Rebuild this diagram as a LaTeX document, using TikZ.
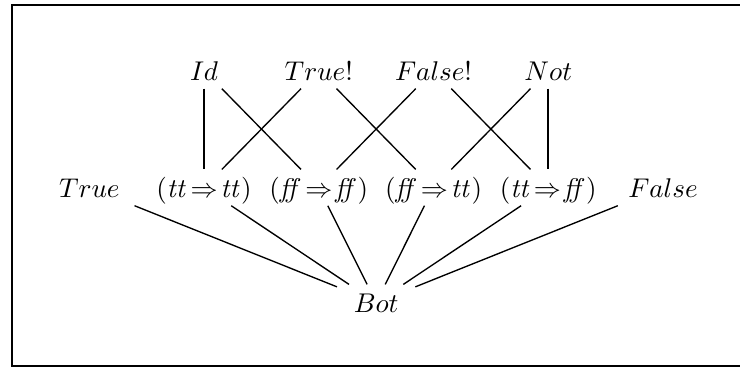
\documentclass[tikz,border=0pt]{standalone}
\usepackage{amsmath}
\usepackage{tikz}

\tikzset{
  elt/.style={anchor=base, inner xsep=0.6em, inner ysep=0.1em,
              text height=0.9em, text depth=0.2em},
  ord/.style={line width=0.5pt},
  ordv/.style={line width=0.8pt}
}

\begin{document}
\begin{tikzpicture}

\useasboundingbox (0,0) rectangle (9.61,4.779);

%-- frame, open to the right
\draw[line width=0.75pt]
  (9.7,4.714)--(0.156,4.714)--(0.156,0.026)--(9.7,0.026);

%-- top row
\node[elt] (Id)     at (2.65,3.74) {$Id$};
\node[elt] (TrueK)  at (4.14,3.74) {$True\mathit{!}$};
\node[elt] (FalseK) at (5.63,3.74) {$False\mathit{!}$};
\node[elt] (Not)    at (7.12,3.74) {$Not$};

%-- middle row
\node[elt] (True)  at (1.16,2.22) {$True$};
\node[elt] (TT)    at (2.65,2.22) {$(\mathit{tt}\!\Rightarrow\!\mathit{tt})$};
\node[elt] (FF)    at (4.14,2.22) {$(\mathit{ff}\!\Rightarrow\!\mathit{ff})$};
\node[elt] (FT)    at (5.63,2.22) {$(\mathit{ff}\!\Rightarrow\!\mathit{tt})$};
\node[elt] (TF)    at (7.12,2.22) {$(\mathit{tt}\!\Rightarrow\!\mathit{ff})$};
\node[elt] (False) at (8.61,2.22) {$False$};

%-- bottom
\node[elt] (Bot) at (4.885,0.727) {$Bot$};

\draw[ordv] (Id)--(TT);
\draw[ordv] (Not)--(TF);

\foreach \s/\e in {Id/FF,TrueK/TT,TrueK/FT,FalseK/FF,FalseK/TF,Not/FT}
  \draw[ord] (\s)--(\e);

\foreach \s in {True,TT,FF,FT,TF,False}
  \draw[ord] (\s)--(Bot);

\end{tikzpicture}
\end{document}
